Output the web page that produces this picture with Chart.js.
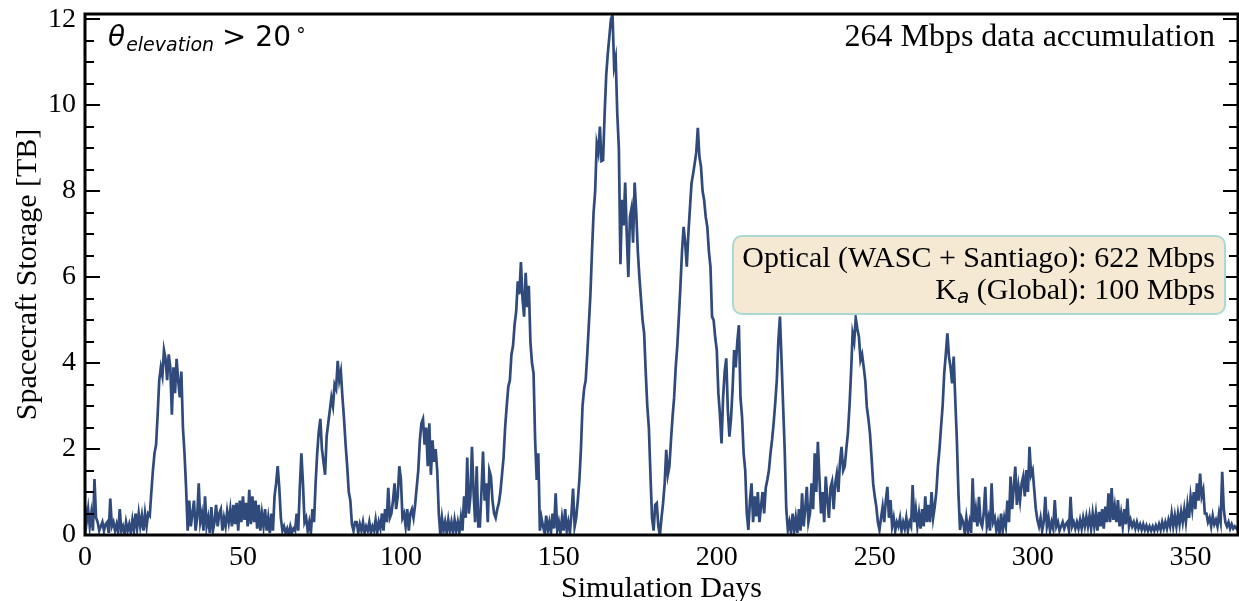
<!DOCTYPE html>
<html lang="en">
<head>
  <meta charset="UTF-8">
  <title>Spacecraft Storage</title>
  <script src="https://cdn.jsdelivr.net/npm/chart.js"></script>
  <style>
    html, body { margin: 0; padding: 0; background: #fff; }
    #wrap { width: 1239px; height: 601px; }
  </style>
</head>
<body>
<div id="wrap"><canvas id="chart" width="1239" height="601"></canvas></div>
<script>
// storage [TB], sampled every half day from day 0 to day 365
const STEP = 0.5;
const storage = [
  0.7,0.3, 0.6,0.2, 0.5,0.1, 1.3,0.4, 0.3,0.1, 0.2,0.3, 0.1,0.25, 0.3,0.05, 0.85,0.2, 0.3,0.1,
  0.25,0.05, 0.6,0.1, 0.2,0.0, 0.3,0.1, 0.25,0.05, 0.35,0.1, 0.5,0.15, 0.5,0.2, 0.45,0.1, 0.5,0.2,
  0.5,0.45, 1.0,1.5, 1.9,2.1, 2.8,3.6, 3.9,3.7, 4.3,4.1, 3.6,4.2, 3.9,2.8, 3.9,3.3, 4.1,3.6,
  3.2,3.8, 2.5,1.9, 1.1,0.1, 0.8,0.2, 0.5,0.8, 0.1,0.4, 1.2,0.3, 0.5,0.1, 0.9,0.2, 0.4,0.05,
  0.65,0.1, 0.3,0.7, 0.2,0.5, 0.6,0.1, 0.4,0.2, 0.55,0.3, 0.6,0.2, 0.7,0.25, 0.75,0.1, 0.8,0.3,
  0.9,0.35, 0.75,0.2, 1.05,0.25, 0.9,0.3, 0.8,0.15, 0.7,0.1, 0.5,0.2, 0.6,0.1, 0.4,0.05, 0.5,0.1,
  0.9,1.2, 1.6,1.1, 0.4,0.1, 0.2,0.05, 0.15,0.0, 0.2,0.05, 0.15,0.1, 0.5,0.1, 1.1,1.9, 1.2,0.3,
  0.4,0.1, 0.3,0.05, 0.6,0.3, 1.2,1.9, 2.4,2.7, 2.0,1.7, 1.4,2.3, 2.6,2.9, 3.2,3.0, 3.5,3.4,
  4.05,3.6, 3.8,3.2, 2.7,2.1, 1.6,1.0, 0.8,0.25, 0.1,0.3, 0.3,0.05, 0.25,0.1, 0.3,0.05, 0.2,0.1,
  0.3,0.05, 0.2,0.1, 0.35,0.05, 0.3,0.15, 0.5,0.1, 0.6,0.3, 1.1,0.4, 0.5,0.8, 1.2,0.6, 0.9,1.6,
  1.3,0.4, 0.5,0.2, 0.6,0.1, 0.5,0.6, 0.4,0.7, 1.1,1.5, 2.2,2.6, 2.7,2.1, 2.5,1.6, 2.6,1.4,
  2.2,1.7, 2.0,1.5, 0.5,0.0, 0.4,0.1, 0.3,0.05, 0.35,0.1, 0.3,0.05, 0.35,0.1, 0.3,0.05, 0.4,0.1,
  0.9,0.4, 1.8,0.5, 0.9,2.05, 1.0,0.3, 1.6,0.2, 0.2,1.0, 1.94,0.8, 1.2,0.3, 1.5,1.36, 0.8,0.5,
  0.4,0.6, 0.74,1.0, 1.4,1.8, 2.5,3.0, 3.45,3.6, 4.2,4.4, 4.9,5.2, 5.9,5.6, 6.35,5.5, 5.08,6.1,
  5.3,5.8, 4.5,4.0, 3.76,2.2, 1.28,1.9, 0.1,0.4, 0.2,0.05, 0.45,0.1, 0.3,0.05, 0.5,0.15, 0.97,0.1,
  0.3,0.05, 0.4,0.1, 0.6,0.1, 0.3,0.05, 0.5,1.08, 0.2,0.4, 0.8,1.28, 2.0,3.0, 3.4,3.6, 4.2,4.9,
  5.6,6.6, 7.5,8.0, 9.1,8.9, 9.5,8.7, 8.72,9.8, 10.7,11.2, 11.6,12.0, 12.09,10.9, 11.1,9.8, 9.0,6.3,
  7.8,7.2, 8.2,7.0, 6.0,7.4, 7.6,6.8, 8.2,7.5, 6.6,6.0, 5.5,5.0, 4.7,3.8, 3.0,2.5, 1.4,0.4,
  0.1,0.7, 0.74,0.2, 0.0,0.4, 0.74,1.2, 1.98,1.4, 1.6,2.2, 2.75,3.2, 3.9,4.4, 5.08,5.8, 6.6,7.17,
  6.8,6.24, 7.0,7.6, 8.18,8.4, 8.64,8.9, 9.47,8.8, 8.57,8.0, 7.79,7.4, 7.17,6.6, 6.24,5.08, 5.0,4.6,
  4.3,3.3, 2.8,2.13, 3.2,3.8, 4.11,2.9, 2.29,2.7, 3.4,4.3, 3.9,4.5, 4.88,3.2, 2.75,1.9, 1.51,0.5,
  0.12,0.8, 1.2,0.3, 0.9,0.43, 1.0,0.3, 0.66,1.0, 0.5,1.1, 1.28,1.5, 1.9,2.21, 2.6,3.06, 3.6,4.53,
  5.08,4.07, 3.0,1.98, 0.6,0.12, 0.3,0.05, 0.5,0.1, 0.4,0.05, 0.6,0.1, 0.97,0.2, 0.6,1.12, 0.3,0.5,
  1.2,0.6, 1.9,1.0, 2.17,1.3, 0.5,1.0, 0.3,1.36, 0.81,0.4, 1.1,1.24, 0.6,1.2, 1.43,1.0, 1.7,2.05,
  1.5,1.59, 2.0,2.36, 2.98,3.76, 4.69,4.5, 5.04,4.8, 4.61,4.07, 4.2,3.91, 3.6,2.98, 2.7,2.36, 1.8,1.2,
  0.9,0.66, 0.3,0.12, 0.4,0.66, 0.3,0.8, 1.12,0.4, 0.81,0.2, 0.4,0.1, 0.3,0.2, 0.4,0.1, 0.3,0.15,
  0.4,0.1, 0.3,0.2, 1.16,0.3, 0.6,0.2, 0.5,0.15, 0.6,0.2, 0.9,0.3, 0.7,0.3, 1.0,0.4, 0.66,1.0,
  1.59,2.0, 2.52,3.0, 3.76,4.2, 4.69,4.15, 3.9,3.53, 4.15,3.14, 2.21,0.97, 0.12,0.4, 0.3,0.05, 0.4,0.1,
  0.3,0.05, 1.32,0.3, 0.6,0.2, 0.89,0.3, 0.2,0.5, 1.12,0.2, 0.4,0.1, 1.2,0.3, 0.4,0.1, 0.3,0.05,
  0.5,0.1, 0.4,0.2, 0.8,0.3, 1.36,0.6, 1.1,1.59, 0.7,1.12, 0.8,1.2, 1.36,0.9, 1.51,1.0, 2.05,1.4,
  1.51,1.05, 0.6,0.35, 0.2,0.4, 0.1,0.3, 0.89,0.2, 0.4,0.1, 0.3,0.15, 0.81,0.2, 0.3,0.1, 0.2,0.3,
  0.15,0.25, 0.3,0.1, 0.89,0.2, 0.3,0.15, 0.3,0.15, 0.35,0.15, 0.4,0.2, 0.43,0.2, 0.45,0.15, 0.5,0.2,
  0.5,0.1, 0.54,0.2, 0.6,0.15, 0.66,0.3, 0.97,0.3, 1.09,0.35, 0.66,0.3, 0.81,0.2, 0.5,0.2, 0.6,0.25,
  0.85,0.2, 0.35,0.2, 0.3,0.15, 0.3,0.15, 0.25,0.12, 0.25,0.12, 0.22,0.1, 0.2,0.1, 0.2,0.1, 0.22,0.12,
  0.25,0.12, 0.3,0.15, 0.3,0.15, 0.35,0.2, 0.5,0.2, 0.45,0.2, 0.5,0.25, 0.54,0.3, 0.6,0.3, 0.7,0.4,
  0.89,0.6, 1.0,0.6, 1.2,0.8, 1.43,0.9, 1.05,0.5, 0.5,0.3, 0.4,0.2, 0.45,0.25, 0.35,0.2, 0.5,0.3,
  1.47,0.6, 0.3,0.2, 0.3,0.15, 0.25,0.15, 0.2,0.15, 0.2
];

const xTicks = [0, 50, 100, 150, 200, 250, 300, 350];
const yTicks = [0, 2, 4, 6, 8, 10, 12];
const yMinor = 0.5;
const X_MAX = 365;
const Y_MAX = 12.12;

const SERIF = "'Liberation Serif', 'Times New Roman', serif";
const LINE = "#2f4a7b";

const points = storage.map((v, i) => ({ x: i * STEP, y: v }));

// frame, inward ticks and the text boxes, drawn on top of the plot
const frame = {
  id: "frame",
  afterDraw(chart) {
    const { ctx, chartArea: a, scales: { y } } = chart;
    ctx.save();
    ctx.strokeStyle = "#000";

    // y ticks on both sides, pointing in
    ctx.lineWidth = 2;
    for (let v = 0; v <= Y_MAX + 1e-9; v += yMinor) {
      const py = Math.round(y.getPixelForValue(v));
      const major = yTicks.includes(v);
      const len = major ? 15 : 9;
      ctx.beginPath();
      ctx.moveTo(a.left, py); ctx.lineTo(a.left + len, py);
      ctx.moveTo(a.right, py); ctx.lineTo(a.right - len, py);
      ctx.stroke();
    }

    ctx.lineWidth = 3;
    ctx.strokeRect(a.left, a.top, a.right - a.left, a.bottom - a.top);

    // theta_elevation > 20 deg
    ctx.fillStyle = "#000";
    ctx.textBaseline = "alphabetic";
    ctx.textAlign = "left";
    let x = a.left + 23;
    const base = a.top + 32;
    ctx.font = "italic 28px 'DejaVu Sans'";
    ctx.fillText("\u03b8", x, base);
    x += ctx.measureText("\u03b8").width + 1;
    ctx.font = "italic 19px 'DejaVu Sans'";
    ctx.fillText("elevation", x, base + 5);
    x += ctx.measureText("elevation").width + 8;
    ctx.font = "29px 'DejaVu Sans'";
    ctx.fillText(">", x, base);
    x += ctx.measureText(">").width + 9;
    ctx.font = "28px 'DejaVu Sans'";
    ctx.fillText("20", x, base);
    x += ctx.measureText("20").width + 4;
    ctx.font = "19px 'DejaVu Sans'";
    ctx.fillText("\u2218", x, base - 10);

    // top right label
    ctx.textAlign = "right";
    ctx.font = "32px " + SERIF;
    ctx.fillText("264 Mbps data accumulation", a.right - 23, base);

    // link box
    const bx = 733, by = 236, bw = 492, bh = 78, r = 9;
    ctx.beginPath();
    ctx.roundRect(bx, by, bw, bh, r);
    ctx.fillStyle = "#f6e9d4";
    ctx.fill();
    ctx.lineWidth = 2;
    ctx.strokeStyle = "#a9d9d2";
    ctx.stroke();

    ctx.fillStyle = "#000";
    ctx.font = "30px " + SERIF;
    const tx = bx + bw - 10;
    ctx.fillText("Optical (WASC + Santiago): 622 Mbps", tx, by + 31);
    const rest = " (Global): 100 Mbps";
    ctx.fillText(rest, tx, by + 63);
    let kx = tx - ctx.measureText(rest).width;
    ctx.font = "italic 20px 'DejaVu Sans'";
    const sub = "a";
    ctx.fillText(sub, kx, by + 67);
    kx -= ctx.measureText(sub).width;
    ctx.font = "30px " + SERIF;
    ctx.fillText("K", kx, by + 63);
    ctx.restore();
  }
};

new Chart(document.getElementById("chart"), {
  type: "line",
  data: {
    datasets: [{
      data: points,
      borderColor: LINE,
      borderWidth: 2.7,
      pointRadius: 0,
      tension: 0,
      fill: false
    }]
  },
  options: {
    responsive: false,
    animation: false,
    events: [],
    layout: { padding: { left: 0, right: 1, top: 14, bottom: 0 } },
    plugins: { legend: { display: false }, tooltip: { enabled: false } },
    scales: {
      x: {
        type: "linear",
        min: 0,
        max: X_MAX,
        afterBuildTicks: s => { s.ticks = xTicks.map(v => ({ value: v })); },
        afterFit: s => { s.height = 66; s.paddingLeft = 0; s.paddingRight = 0; },
        grid: { display: false, drawTicks: false },
        border: { display: false },
        ticks: { color: "#000", padding: 6, maxRotation: 0, font: { family: SERIF, size: 28 } },
        title: {
          display: true,
          text: "Simulation Days",
          color: "#000",
          font: { family: SERIF, size: 30, lineHeight: 0.8 },
          padding: { top: 0, bottom: 0 }
        }
      },
      y: {
        min: 0,
        max: Y_MAX,
        afterBuildTicks: s => { s.ticks = yTicks.map(v => ({ value: v })); },
        afterFit: s => { s.width = 85; s.paddingTop = 0; s.paddingBottom = 0; },
        grid: { display: false, drawTicks: false },
        border: { display: false },
        ticks: { color: "#000", padding: 9, font: { family: SERIF, size: 28 } },
        title: {
          display: true,
          text: "Spacecraft Storage [TB]",
          color: "#000",
          font: { family: SERIF, size: 30 },
          padding: { top: 10, bottom: 0 }
        }
      }
    }
  },
  plugins: [frame]
});
</script>
</body>
</html>
